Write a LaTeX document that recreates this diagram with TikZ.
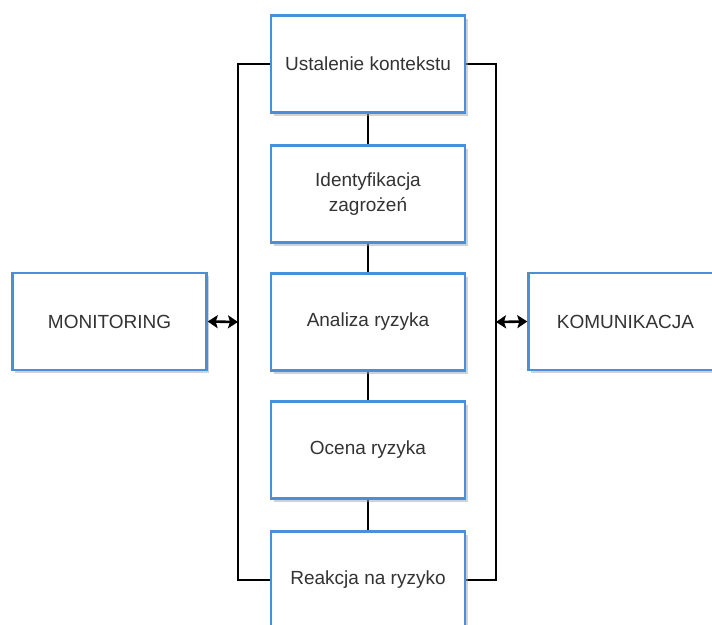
\documentclass[tikz,border=0pt]{standalone}
\usepackage{fontspec}
\setmainfont{Liberation Sans}
\usetikzlibrary{arrows.meta,shadows}
\definecolor{boxblue}{HTML}{4A90D9}
\definecolor{txtgrey}{HTML}{333333}
\tikzset{
  x=1pt, y=-1pt,
  procbox/.style={draw=boxblue, line width=2.4pt, fill=white,
    minimum width=194pt, minimum height=97pt, inner sep=0pt,
    align=center, text=txtgrey,
    font=\fontsize{19}{25}\selectfont,
    drop shadow={shadow xshift=2.5pt, shadow yshift=-3pt, fill=black!35, opacity=0.5}},
  link/.style={draw=black, line width=1.1pt},
  biarrow/.style={draw=black, line width=2.6pt, {Stealth[length=10pt,width=13pt,inset=2pt]}-{Stealth[length=10pt,width=13pt,inset=2pt]}}
}
\begin{document}
\begin{tikzpicture}
\useasboundingbox (0,0) rectangle (712,624);
\clip (0,0) rectangle (712,624);

% bracket rails on both sides of the process chain
\coordinate (railLtop) at (238,64);
\coordinate (railLbot) at (238,580);
\coordinate (railRtop) at (496,64);
\coordinate (railRbot) at (496,580);
\coordinate (railLmid) at (238,322);
\coordinate (railRmid) at (496,322);

\draw[link] (368,64) -- (railLtop) -- (railLbot) -- (368,580);
\draw[link] (368,64) -- (railRtop) -- (railRbot) -- (368,580);

% central chain
\draw[link] (368,64) -- (368,580);

\node[procbox] (b1) at (368,64) {Ustalenie kontekstu};
\node[procbox] (b2) at (368,194) {Identyfikacja\\zagrożeń};
\node[procbox] (b3) at (368,322) {Analiza ryzyka};
\node[procbox] (b4) at (368,450) {Ocena ryzyka};
\node[procbox] (b5) at (368,580) {Reakcja na ryzyko};

% side boxes
\node[procbox] (mon) at (109.5,321.5) {MONITORING};
\node[procbox] (kom) at (625.5,321.5) {KOMUNIKACJA};

\draw[biarrow] (mon.east) -- (railLmid);
\draw[biarrow] (railRmid) -- (kom.west);
\end{tikzpicture}
\end{document}
